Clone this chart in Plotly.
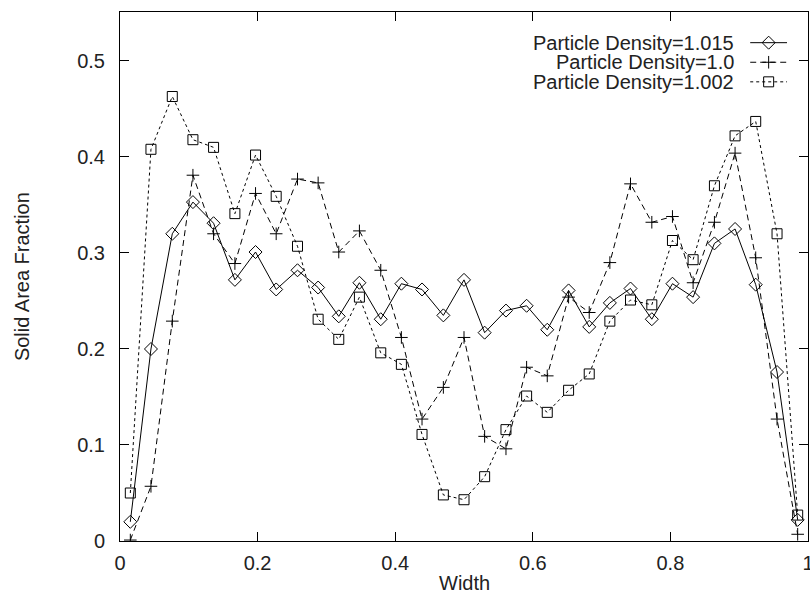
import plotly.graph_objects as go

# ---- data ----
width = [0.015, 0.045, 0.076, 0.106, 0.136, 0.167, 0.197, 0.227, 0.258, 0.288,
         0.318, 0.348, 0.379, 0.409, 0.439, 0.470, 0.500, 0.530, 0.561, 0.591,
         0.621, 0.652, 0.682, 0.712, 0.742, 0.773, 0.803, 0.833, 0.864, 0.894,
         0.924, 0.955, 0.985]

density_1015 = [0.020, 0.200, 0.320, 0.353, 0.331, 0.272, 0.301, 0.262, 0.282, 0.264,
                0.234, 0.269, 0.231, 0.268, 0.262, 0.235, 0.272, 0.217, 0.240, 0.245,
                0.220, 0.261, 0.223, 0.248, 0.263, 0.231, 0.268, 0.254, 0.310, 0.325,
                0.267, 0.176, 0.022]

density_10 = [0.001, 0.057, 0.229, 0.381, 0.320, 0.289, 0.362, 0.320, 0.377, 0.373,
              0.301, 0.323, 0.282, 0.212, 0.127, 0.160, 0.212, 0.109, 0.096, 0.181,
              0.172, 0.254, 0.238, 0.290, 0.372, 0.332, 0.338, 0.269, 0.332, 0.404,
              0.295, 0.127, 0.007]

density_1002 = [0.050, 0.408, 0.463, 0.418, 0.410, 0.341, 0.402, 0.359, 0.307, 0.231,
                0.210, 0.254, 0.196, 0.184, 0.111, 0.048, 0.043, 0.067, 0.116, 0.151,
                0.134, 0.157, 0.174, 0.229, 0.251, 0.246, 0.313, 0.293, 0.370, 0.422,
                0.437, 0.320, 0.027]

series_names = ["Particle Density=1.015", "Particle Density=1.0", "Particle Density=1.002"]
x_ticks = [0, 0.2, 0.4, 0.6, 0.8, 1]
x_tick_text = ["0", "0.2", "0.4", "0.6", "0.8", "1"]
y_ticks = [0, 0.1, 0.2, 0.3, 0.4, 0.5]
y_tick_text = ["0", "0.1", "0.2", "0.3", "0.4", "0.5"]

# ---- styles ----
FONT = "Liberation Sans, Arial, Helvetica, sans-serif"
FS = 20
TXT = "#222"
styles = [
    dict(dash="solid", symbol="diamond-open", size=10),
    dict(dash="6px,4px", symbol="cross-thin-open", size=9),
    dict(dash="3px,3px", symbol="square-open", size=10),
]
series = [density_1015, density_10, density_1002]

fig = go.Figure()
for ys, st, nm in zip(series, styles, series_names):
    fig.add_trace(go.Scatter(
        x=width, y=ys, mode="lines+markers", name=nm,
        line=dict(color="black", width=1, dash=st["dash"]),
        marker=dict(symbol=st["symbol"], size=st["size"], color="black",
                    line=dict(color="black", width=1)),
        showlegend=False, xaxis="x", yaxis="y"))

# ---- manual gnuplot-style key (text left, sample right) ----
key_rows = [0.942, 0.905, 0.868]
key_text_x = 0.895
key_line = [0.916, 0.9695]
key_mid = 0.9428
for row, st, nm in zip(key_rows, styles, series_names):
    fig.add_trace(go.Scatter(
        x=key_line, y=[row, row], mode="lines",
        line=dict(color="black", width=1, dash=st["dash"]),
        showlegend=False, hoverinfo="skip", xaxis="x2", yaxis="y2"))
    fig.add_trace(go.Scatter(
        x=[key_mid], y=[row], mode="markers",
        marker=dict(symbol=st["symbol"], size=st["size"], color="black",
                    line=dict(color="black", width=1)),
        showlegend=False, hoverinfo="skip", xaxis="x2", yaxis="y2"))
    fig.add_annotation(x=key_text_x, y=row, xref="paper", yref="paper",
                       text=nm, showarrow=False, xanchor="right", yanchor="middle",
                       font=dict(family=FONT, size=FS, color=TXT))

axis_common = dict(showgrid=False, zeroline=False, showline=True, linecolor="black",
                   linewidth=1, mirror="allticks", ticks="inside", ticklen=9,
                   tickcolor="black", tickwidth=1, ticklabeloverflow="allow",
                   automargin=False,
                   tickfont=dict(family=FONT, size=FS, color=TXT))

fig.update_layout(
    width=810, height=593,
    margin=dict(l=120, r=2, t=12, b=52, autoexpand=False),
    paper_bgcolor="white", plot_bgcolor="white",
    xaxis=dict(range=[0, 1], tickvals=x_ticks, ticktext=x_tick_text,
               ticklabelstandoff=4, **axis_common),
    yaxis=dict(range=[0, 0.551], tickvals=y_ticks, ticktext=y_tick_text,
               ticklabelstandoff=10, **axis_common),
    xaxis2=dict(range=[0, 1], overlaying="x", visible=False, fixedrange=True),
    yaxis2=dict(range=[0, 1], overlaying="y", visible=False, fixedrange=True),
)

fig.add_annotation(x=-0.143, y=0.5, xref="paper", yref="paper", text="Solid Area Fraction",
                   textangle=-90, showarrow=False, xanchor="center", yanchor="middle",
                   font=dict(family=FONT, size=FS, color=TXT))
fig.add_annotation(x=0.5, y=-0.0794, xref="paper", yref="paper", text="Width",
                   showarrow=False, xanchor="center", yanchor="middle",
                   font=dict(family=FONT, size=FS, color=TXT))

fig.write_html("out.html")
